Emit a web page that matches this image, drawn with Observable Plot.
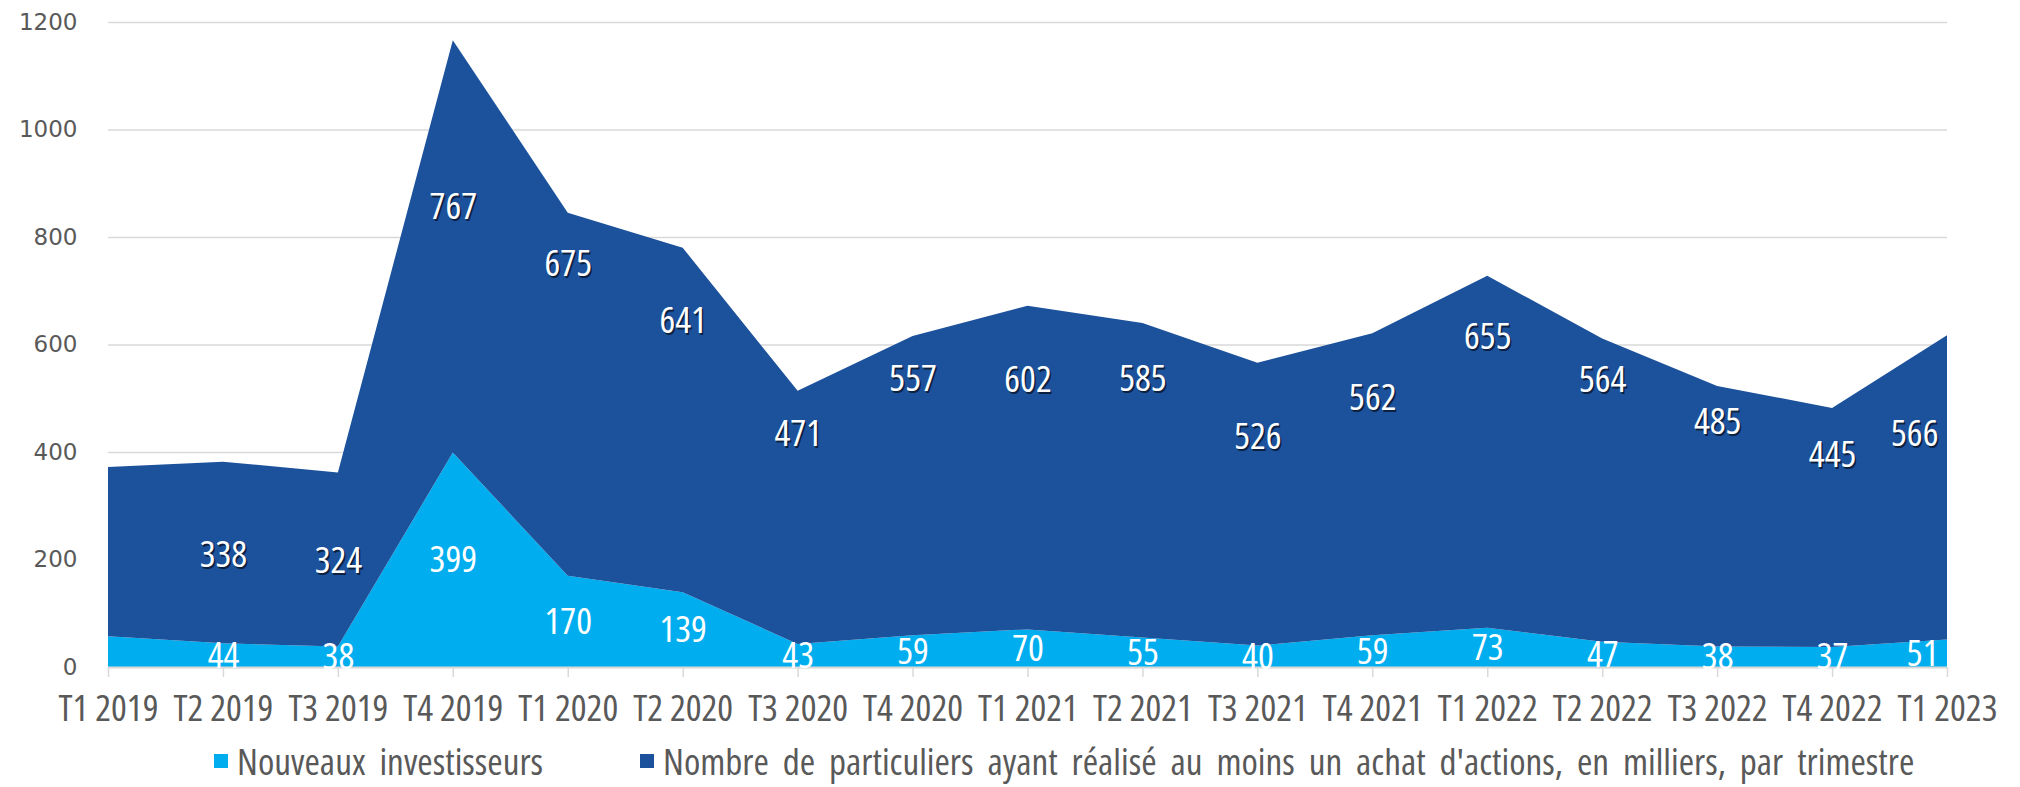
<!DOCTYPE html>
<html><head><meta charset="utf-8">
<script src="https://cdn.jsdelivr.net/npm/d3@7"></script>
<script src="https://cdn.jsdelivr.net/npm/@observablehq/plot@0.6"></script>
<style>
html,body{margin:0;padding:0;background:#fff;}
#wrap{position:relative;width:2020px;height:787px;overflow:hidden;}
#chart{position:absolute;left:0;top:0;}
#legend{position:absolute;left:0;top:0;width:2020px;height:787px;color:#595959;}
.item{position:absolute;display:flex;align-items:center;white-space:nowrap;word-spacing:7px;line-height:normal;}
.sw{width:14px;height:14px;margin-right:9px;flex:none;}
</style>
</head><body>
<div id="wrap"><div id="chart"></div><div id="legend"></div></div>
<script>
const quarters = ["T1 2019","T2 2019","T3 2019","T4 2019","T1 2020","T2 2020","T3 2020","T4 2020","T1 2021","T2 2021","T3 2021","T4 2021","T1 2022","T2 2022","T3 2022","T4 2022","T1 2023"];
const nouveaux = [57,44,38,399,170,139,43,59,70,55,40,59,73,47,38,37,51];
const particuliers = [315,338,324,767,675,641,471,557,602,585,526,562,655,564,485,445,566];
// level (in thousands) at which each particuliers label sits in the picture; first quarter has none
const particuliersLabelLevel = [null,209,198,857,751,645,434,537,534,537,428,501,614,534,456,395,434];
const yTicks = [0,200,400,600,800,1000,1200];
const seriesNames = ["Nouveaux investisseurs","Nombre de particuliers ayant réalisé au moins un achat d'actions, en milliers, par trimestre"];
const seriesColors = ["#00AEEF","#1C519B"];

// choose the narrowest available sans face (the original uses a condensed Calibri-like face)
function measure(family, stretch){
  const s=document.createElement('span');
  s.style.cssText='position:absolute;visibility:hidden;white-space:nowrap;font-size:100px;font-family:'+family+';font-stretch:'+stretch;
  s.textContent='T1 2019';
  document.body.appendChild(s);
  const w=s.getBoundingClientRect().width; s.remove(); return w;
}
const candidates=[['"Open Sans"','75%'],['"Noto Sans"','condensed'],['"DejaVu Sans Condensed"','normal'],['"DejaVu Sans"','condensed'],['"Open Sans"','normal']];
let best=null;
for(const [f,st] of candidates){const w=measure(f,st); if(!best||w<best.w-1) best={f,st,w};}
const fontFam=best.f, fontStretch=best.st;
const fontSize=Math.round(100*100/best.w*10)/10; // "T1 2019" ≈ 100px wide as in the picture

const rows = quarters.flatMap((q,i)=>[
  {q, s:seriesNames[0], v:nouveaux[i], i},
  {q, s:seriesNames[1], v:particuliers[i], i}
]);
const lightLab = quarters.map((q,i)=>({q, v:nouveaux[i], i})).filter(d=>d.i>0);
const darkLab = quarters.map((q,i)=>({q, v:particuliers[i], lvl:particuliersLabelLevel[i], i})).filter(d=>d.lvl!=null);
const last = quarters.length-1;

const chart = Plot.plot({
  width:2020, height:740,
  marginLeft:108, marginRight:73, marginTop:22, marginBottom:73,
  style:{background:"#fff", color:"#595959"},
  x:{type:"point", domain:quarters, padding:0, round:false},
  y:{domain:[0,1200]},
  color:{domain:seriesNames, range:seriesColors},
  marks:[
    Plot.gridY(yTicks, {stroke:"#d9d9d9", strokeOpacity:1, strokeWidth:1.5}),
    Plot.areaY(rows, {x:"q", y:"v", fill:"s", order:seriesNames}),
    Plot.ruleY([0], {stroke:"#d9d9d9", strokeWidth:2}),
    Plot.axisY(yTicks, {tickSize:0, tickPadding:31, fontSize:23, fontFamily:"DejaVu Sans", tickFormat:d=>String(d), label:null}),
    Plot.axisX({tickSize:10, tickPadding:17, fontSize:fontSize, stroke:"#d9d9d9", strokeWidth:1.5, label:null, className:"cx"}),
    Plot.text(lightLab, {filter:d=>d.i<last, x:"q", y:d=>d.v/2, text:d=>String(d.v), fill:"white", fontSize, className:"cx"}),
    Plot.text(lightLab, {filter:d=>d.i===last, x:"q", y:d=>d.v/2, text:d=>String(d.v), fill:"white", fontSize, textAnchor:"end", dx:-9, className:"cx"}),
    Plot.text(darkLab, {filter:d=>d.i<last, x:"q", y:"lvl", text:d=>String(d.v), fill:"#0a1830", fillOpacity:0.85, fontSize, dx:1.5, dy:2, className:"cx"}),
    Plot.text(darkLab, {filter:d=>d.i<last, x:"q", y:"lvl", text:d=>String(d.v), fill:"white", fontSize, className:"cx"}),
    Plot.text(darkLab, {filter:d=>d.i===last, x:"q", y:"lvl", text:d=>String(d.v), fill:"#0a1830", fillOpacity:0.85, fontSize, textAnchor:"end", dx:-7.5, dy:2, className:"cx"}),
    Plot.text(darkLab, {filter:d=>d.i===last, x:"q", y:"lvl", text:d=>String(d.v), fill:"white", fontSize, textAnchor:"end", dx:-9, className:"cx"})
  ]
});
document.getElementById("chart").appendChild(chart);
d3.select(chart).selectAll(".cx text").style("font-family", fontFam).style("font-stretch", fontStretch).style("font-size", fontSize+"px");

const legend = document.getElementById("legend");
const lefts = [214, 640];
seriesNames.forEach((name,k)=>{
  const it = document.createElement("div");
  it.className = "item";
  it.style.left = lefts[k]+"px";
  it.style.fontFamily = fontFam;
  it.style.fontStretch = fontStretch;
  it.style.fontSize = fontSize+"px";
  const sw = document.createElement("span");
  sw.className = "sw";
  sw.style.background = seriesColors[k];
  const tx = document.createElement("span");
  tx.textContent = name;
  it.appendChild(sw); it.appendChild(tx);
  legend.appendChild(it);
  // place so the legend sits at the bottom like the original, fully inside the page
  const h = it.getBoundingClientRect().height;
  it.style.top = (786 - h) + "px";
});
</script>
</body></html>
